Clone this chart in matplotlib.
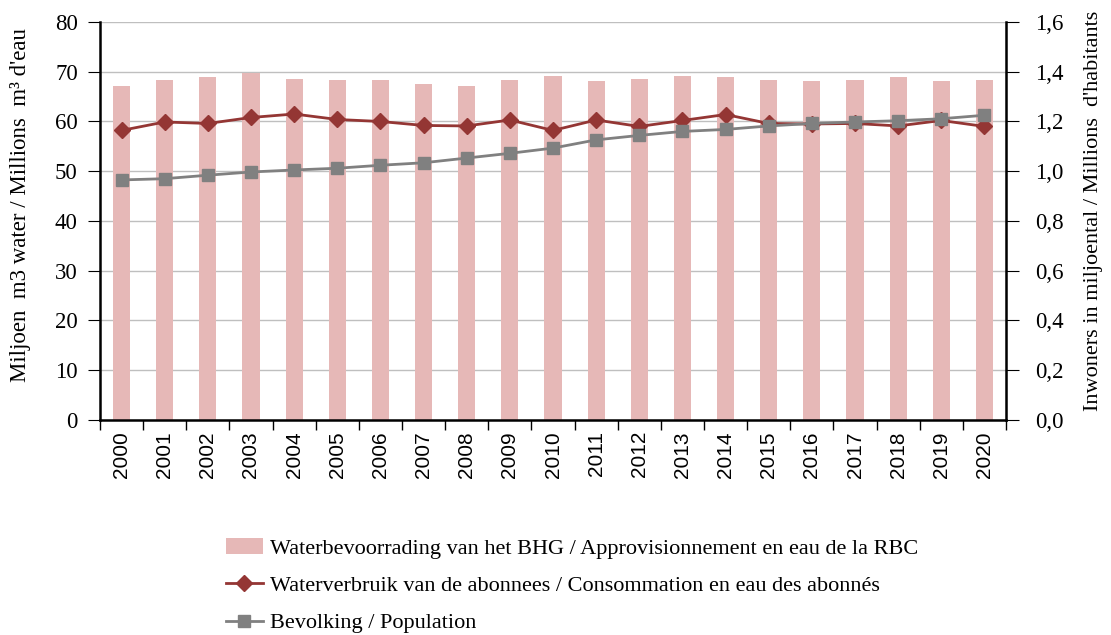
import matplotlib
matplotlib.use('Agg')
import matplotlib.pyplot as plt
from matplotlib.ticker import FuncFormatter
import numpy as np

years = [str(y) for y in range(2000, 2021)]
supply = [67.1, 68.3, 68.9, 69.7, 68.6, 68.3, 68.3, 67.6, 67.1, 68.3, 69.1,
          68.1, 68.6, 69.1, 68.9, 68.3, 68.1, 68.3, 68.9, 68.1, 68.3]
consumption = [58.2, 59.9, 59.6, 60.8, 61.5, 60.4, 60.0, 59.2, 59.1, 60.3, 58.2,
               60.3, 59.0, 60.2, 61.4, 59.6, 59.5, 59.6, 59.1, 60.2, 59.0]
population = [0.965, 0.970, 0.984, 0.997, 1.005, 1.012, 1.024, 1.034, 1.053, 1.072, 1.093,
              1.126, 1.144, 1.160, 1.168, 1.182, 1.192, 1.198, 1.203, 1.211, 1.225]

lbl_supply = 'Waterbevoorrading van het BHG / Approvisionnement en eau de la RBC'
lbl_cons = 'Waterverbruik van de abonnees / Consommation en eau des abonnés'
lbl_pop = 'Bevolking / Population'

plt.rcParams['font.family'] = ['Liberation Serif', 'DejaVu Serif']

fig = plt.figure(figsize=(11.11, 6.35), dpi=100)
ax = fig.add_axes([0.09, 0.3386, 0.8155, 0.6268])
x = np.arange(len(years))

b = ax.bar(x, supply, width=0.4, color='#E6B8B7', zorder=2, label=lbl_supply)
l1, = ax.plot(x, consumption, color='#943634', lw=2, marker='D', ms=8, zorder=4, label=lbl_cons)
ax.set_ylim(0, 80)
ax.set_xlim(-0.5, len(years) - 0.5)
ax.set_yticks(range(0, 81, 10))
ax.yaxis.grid(True, color='#BFBFBF', lw=1, zorder=0)
ax.set_axisbelow(True)

ax.set_xticks(np.arange(-0.5, len(years), 1.0))
ax.set_xticklabels([])
ax.set_xticks(x, minor=True)
ax.set_xticklabels(years, minor=True, rotation=90, fontsize=15, family='Liberation Sans')
ax.tick_params(axis='x', which='minor', length=0, pad=8)
ax.tick_params(axis='x', which='major', direction='out', length=7, width=1)
ax.tick_params(axis='y', direction='out', length=9, pad=7, labelsize=16.5)

ax.spines['top'].set_visible(False)
for s in ['left', 'bottom']:
    ax.spines[s].set_linewidth(1.8)
ax.set_ylabel("Miljoen  m3 water / Millions  m³ d'eau", fontsize=16.5)
ax.yaxis.set_label_coords(-0.076, 0.54)

ax2 = ax.twinx()
l2, = ax2.plot(x, population, color='#808080', lw=2, marker='s', ms=8, zorder=5, label=lbl_pop)
ax2.set_ylim(0, 1.6)
ax2.set_yticks(np.arange(0, 1.61, 0.2))
ax2.yaxis.set_major_formatter(FuncFormatter(lambda v, p: f'{v:.1f}'.replace('.', ',')))
ax2.tick_params(axis='y', direction='out', length=9, pad=12, labelsize=16.5)
ax2.spines['top'].set_visible(False)
ax2.spines['right'].set_linewidth(1.8)
ax2.spines['left'].set_visible(False)
ax2.spines['bottom'].set_visible(False)
ax2.set_ylabel("Inwoners in miljoental / Millions  d'habitants", fontsize=16, rotation=90)
ax2.yaxis.set_label_coords(1.086, 0.525)

fig.legend([b, l1, l2], [lbl_supply, lbl_cons, lbl_pop], loc='upper left',
           bbox_to_anchor=(0.195, 0.166), frameon=False, fontsize=16,
           handlelength=1.7, labelspacing=0.75, borderaxespad=0, handletextpad=0.3)

fig.savefig('out.png', dpi=100)
